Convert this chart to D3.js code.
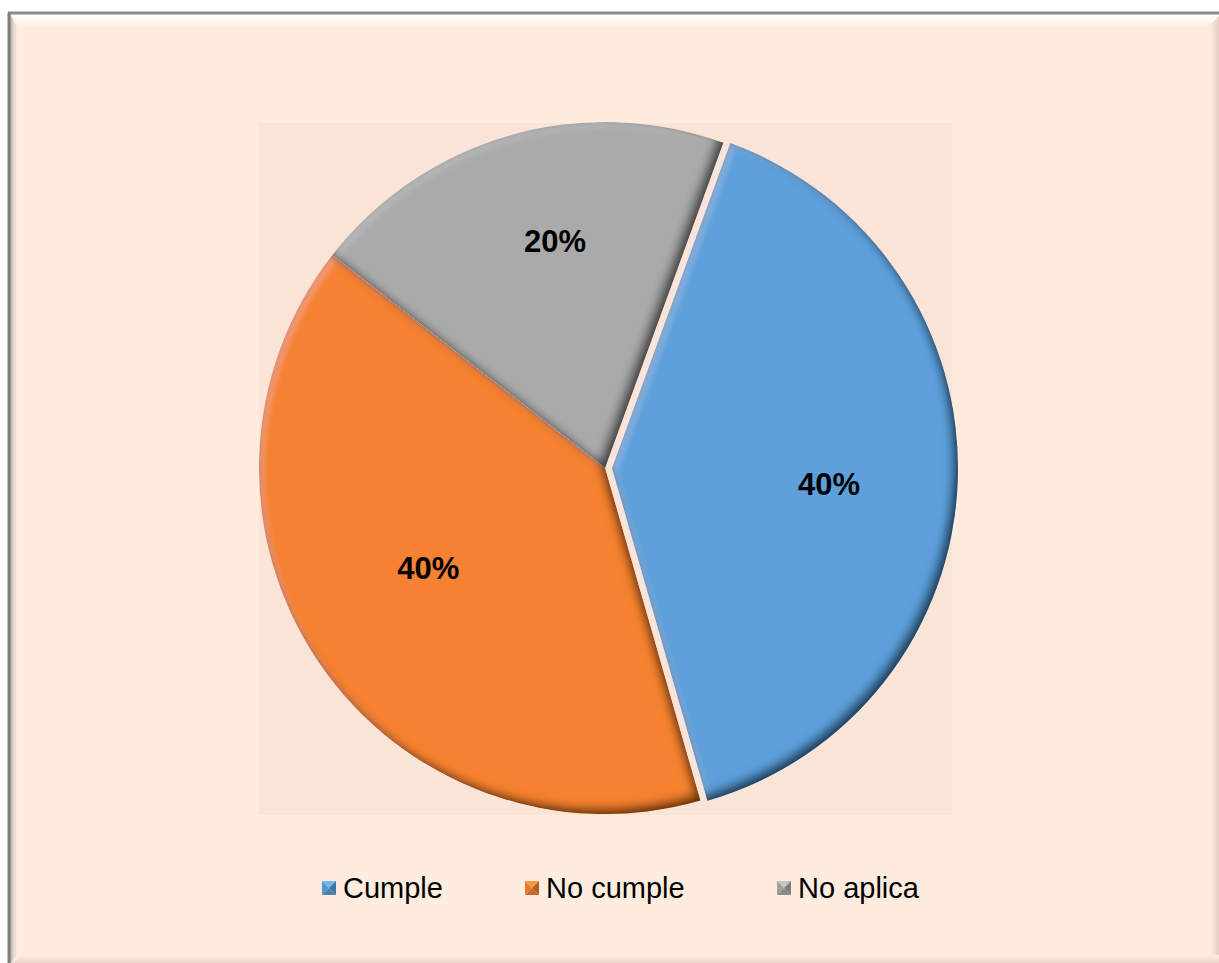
<!DOCTYPE html>
<html>
<head>
<meta charset="utf-8">
<script src="https://cdn.jsdelivr.net/npm/d3@7"></script>
<style>
  html, body { margin: 0; padding: 0; background: #ffffff; }
  svg { display: block; }
</style>
</head>
<body>
<svg id="chart" width="1219" height="963"></svg>
<script>
// Data
const categories = ["Cumple", "No cumple", "No aplica"];
const values = [40, 40, 20];
const colors = ["#5da0dc", "#f58233", "#aaaaaa"];
const exploded = [true, false, false];

const W = 1219, H = 963;
const svg = d3.select("#chart");
const defs = svg.append("defs");

// ---------- Chart frame with bevelled edge ----------
const fx0 = 9, fy0 = 13, fx1 = 1222, fy1 = 966, bw = 12;
const bg = "#feecdf";
svg.append("rect").attr("x", fx0).attr("y", fy0).attr("width", fx1 - fx0).attr("height", fy1 - fy0).attr("fill", bg);

function lin(id, x1, y1, x2, y2, stops) {
  const g = defs.append("linearGradient").attr("id", id)
    .attr("x1", x1).attr("y1", y1).attr("x2", x2).attr("y2", y2);
  stops.forEach(s => g.append("stop").attr("offset", s[0]).attr("stop-color", s[1]).attr("stop-opacity", s[2] == null ? 1 : s[2]));
}
lin("bevTop", 0, 0, 0, 1, [[0, "#ffffff"], [0.5, "#fff8f2"], [1, bg]]);
lin("bevLeft", 0, 0, 1, 0, [[0, "#9a9590"], [0.45, "#d8cdc4"], [1, bg]]);
lin("bevRight", 0, 0, 1, 0, [[0, bg], [1, "#d9c3b8"]]);
lin("bevBottom", 0, 0, 0, 1, [[0, bg], [1, "#e3cdc2"]]);

const poly = (pts, fill) => svg.append("polygon").attr("points", pts.map(p => p.join(",")).join(" ")).attr("fill", fill);
poly([[fx0, fy0], [fx1, fy0], [fx1 - bw, fy0 + bw + 2], [fx0 + bw, fy0 + bw + 2]], "url(#bevTop)");
poly([[fx0, fy0], [fx0 + bw - 4, fy0 + bw + 2], [fx0 + bw - 4, fy1 - bw], [fx0, fy1]], "url(#bevLeft)");
poly([[fx1 - bw, fy0 + bw], [fx1, fy0], [fx1, fy1], [fx1 - bw, fy1 - bw]], "url(#bevRight)");
poly([[fx0 + bw, 955], [W, 955], [W, fy1], [fx0, fy1]], "url(#bevBottom)");
// dark outer edge on top and left
svg.append("line").attr("x1", fx0 - 1).attr("y1", fy0).attr("x2", W).attr("y2", fy0)
  .attr("stroke", "#8a8a8a").attr("stroke-width", 3);
svg.append("line").attr("x1", fx0).attr("y1", fy0).attr("x2", fx0).attr("y2", H)
  .attr("stroke", "#7d7d7d").attr("stroke-width", 3);

// ---------- Plot area ----------
const plot = { x: 259, y: 123, w: 693, h: 692 };
svg.append("rect").attr("x", plot.x).attr("y", plot.y).attr("width", plot.w).attr("height", plot.h)
  .attr("fill", "#fae4d7");

// ---------- Bevel filter for slices ----------
const f = defs.append("filter").attr("id", "bevel")
  .attr("x", "-5%").attr("y", "-5%").attr("width", "110%").attr("height", "110%");
// directional inner shadow (light from top-left)
f.append("feOffset").attr("in", "SourceAlpha").attr("dx", -6).attr("dy", -6).attr("result", "off");
f.append("feGaussianBlur").attr("in", "off").attr("stdDeviation", 5).attr("result", "offBlur");
f.append("feComposite").attr("in", "SourceAlpha").attr("in2", "offBlur").attr("operator", "arithmetic")
  .attr("k2", 1).attr("k3", -1).attr("result", "shadowMask");
f.append("feFlood").attr("flood-color", "#000").attr("flood-opacity", 0.8).attr("result", "dark");
f.append("feComposite").attr("in", "dark").attr("in2", "shadowMask").attr("operator", "in").attr("result", "shadow");
// soft uniform rim
f.append("feGaussianBlur").attr("in", "SourceAlpha").attr("stdDeviation", 3.5).attr("result", "rimBlur");
f.append("feComposite").attr("in", "SourceAlpha").attr("in2", "rimBlur").attr("operator", "arithmetic")
  .attr("k2", 1).attr("k3", -1).attr("result", "rimMask");
f.append("feFlood").attr("flood-color", "#000").attr("flood-opacity", 0.45).attr("result", "rimCol");
f.append("feComposite").attr("in", "rimCol").attr("in2", "rimMask").attr("operator", "in").attr("result", "rim");
// highlight on the top-left edges
f.append("feOffset").attr("in", "SourceAlpha").attr("dx", 4).attr("dy", 4).attr("result", "offH");
f.append("feGaussianBlur").attr("in", "offH").attr("stdDeviation", 3).attr("result", "offHBlur");
f.append("feComposite").attr("in", "SourceAlpha").attr("in2", "offHBlur").attr("operator", "arithmetic")
  .attr("k2", 1).attr("k3", -1).attr("result", "hiMask");
f.append("feFlood").attr("flood-color", "#fff").attr("flood-opacity", 0.2).attr("result", "hiCol");
f.append("feComposite").attr("in", "hiCol").attr("in2", "hiMask").attr("operator", "in").attr("result", "hi");
const m = f.append("feMerge");
m.append("feMergeNode").attr("in", "SourceGraphic");
m.append("feMergeNode").attr("in", "hi");
m.append("feMergeNode").attr("in", "rim");
m.append("feMergeNode").attr("in", "shadow");

// ---------- Pie ----------
const cx = 605, cy = 468, R = 346, explodeDist = 7;
const startAngle = 20 * Math.PI / 180;
const pie = d3.pie().sort(null).startAngle(startAngle).endAngle(startAngle + 2 * Math.PI);
const arcs = pie(values);
const arc = d3.arc().innerRadius(0).outerRadius(R);
const color = d3.scaleOrdinal().domain(categories).range(colors);

const g = svg.append("g").attr("transform", `translate(${cx},${cy})`);
const slices = g.selectAll("g.slice").data(arcs).join("g").attr("class", "slice")
  .attr("transform", (d, i) => {
    if (!exploded[i]) return null;
    const a = (d.startAngle + d.endAngle) / 2;
    return `translate(${Math.sin(a) * explodeDist},${-Math.cos(a) * explodeDist})`;
  });
slices.append("path").attr("d", arc)
  .attr("fill", (d, i) => color(categories[i]))
  .attr("filter", "url(#bevel)");

// Data labels, placed inside each slice
const labelRadius = [0.629, 0.587, 0.672];
const labelTurn = [2, 4.5, 3.6]; // degrees of angular nudge per label
slices.append("text")
  .attr("transform", (d, i) => {
    const a = (d.startAngle + d.endAngle) / 2 + labelTurn[i] * Math.PI / 180;
    const r = R * labelRadius[i];
    return `translate(${Math.sin(a) * r},${-Math.cos(a) * r})`;
  })
  .attr("text-anchor", "middle")
  .attr("dy", "0.36em")
  .attr("font-family", "Liberation Sans, Arial, sans-serif")
  .attr("font-weight", "bold")
  .attr("font-size", 31)
  .attr("fill", "#000")
  .text(d => Math.round(d.data / d3.sum(values) * 100) + "%");

// ---------- Legend ----------
const legendX = [322, 525, 777];
const legendY = 888;
const lg = svg.append("g");
categories.forEach((c, i) => {
  const x = legendX[i], y = legendY - 7, s = 14;
  const base = d3.color(color(c));
  const tri = (pts, col) => lg.append("polygon").attr("points", pts.map(p => p.join(",")).join(" ")).attr("fill", col);
  const mid = [x + s / 2, y + s / 2];
  tri([[x, y], [x + s, y], mid], base.brighter(0.4));
  tri([[x, y], mid, [x, y + s]], base.darker(0.2));
  tri([[x + s, y], [x + s, y + s], mid], base.darker(0.9));
  tri([[x, y + s], [x + s, y + s], mid], base.darker(0.6));
  lg.append("text")
    .attr("x", x + s + 7).attr("y", legendY)
    .attr("dy", "0.36em")
    .attr("font-family", "Liberation Sans, Arial, sans-serif")
    .attr("font-size", 29)
    .attr("fill", "#000")
    .text(c);
});
</script>
</body>
</html>
